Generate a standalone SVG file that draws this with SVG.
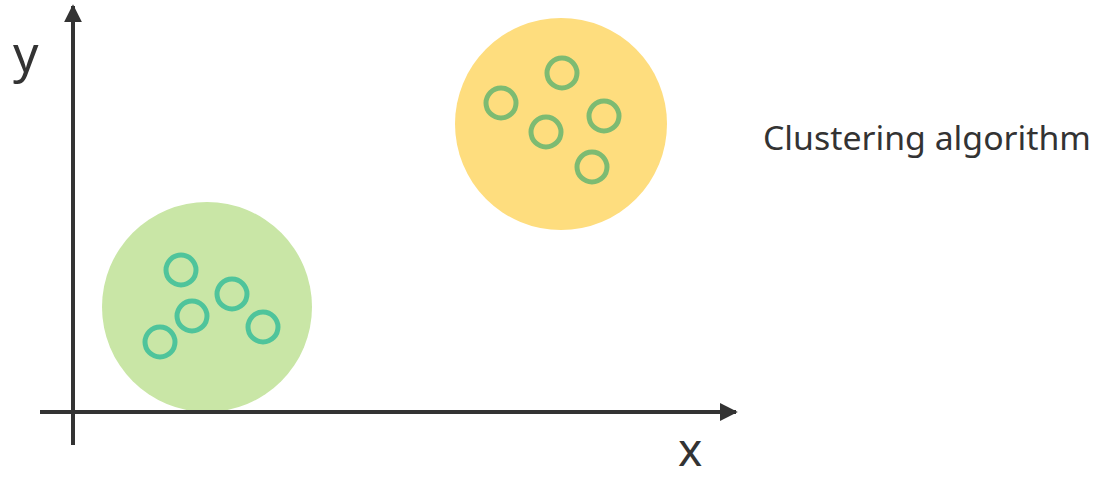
<svg xmlns="http://www.w3.org/2000/svg" width="1095" height="480" viewBox="0 0 1095 480">
<style>
.ax{stroke:#333;stroke-width:4;fill:none}
.pg{fill:none;stroke:#4FC49B;stroke-width:5}
.py{fill:none;stroke:#7DBB72;stroke-width:5}
.t{font-family:"Noto Sans","Liberation Sans",sans-serif;fill:#333}
</style>
<defs>
<marker id="ah" viewBox="0 0 10 10" refX="9" refY="5" markerWidth="4.5" markerHeight="4.5" orient="auto" markerUnits="strokeWidth">
<path d="M0,0 L10,5 L0,10 Z" fill="#333"/>
</marker>
</defs>
<g id="clusterGreen">
<circle cx="207" cy="307" r="105" fill="#C9E6A6"/>
<circle class="pg" cx="181" cy="270" r="15"/>
<circle class="pg" cx="232" cy="294" r="15"/>
<circle class="pg" cx="192" cy="316" r="15"/>
<circle class="pg" cx="160" cy="342" r="15"/>
<circle class="pg" cx="263" cy="327" r="15"/>
</g>
<g id="clusterYellow">
<circle cx="561" cy="124" r="106" fill="#FEDD7E"/>
<circle class="py" cx="562" cy="73" r="15"/>
<circle class="py" cx="501" cy="103" r="15"/>
<circle class="py" cx="604" cy="116" r="15"/>
<circle class="py" cx="546" cy="132" r="15"/>
<circle class="py" cx="592" cy="167" r="15"/>
</g>
<g id="connectors">
<line class="ax" x1="73" y1="445" x2="73" y2="6" marker-end="url(#ah)"/>
<line class="ax" x1="40" y1="412" x2="736" y2="412" marker-end="url(#ah)"/>
</g>
<g id="labels">
<text class="t" x="13" y="72" font-size="50">y</text>
<text class="t" x="678" y="466" font-size="46">x</text>
<text class="t" x="763" y="150" font-size="33" textLength="328" lengthAdjust="spacingAndGlyphs">Clustering algorithm</text>
</g>
</svg>
